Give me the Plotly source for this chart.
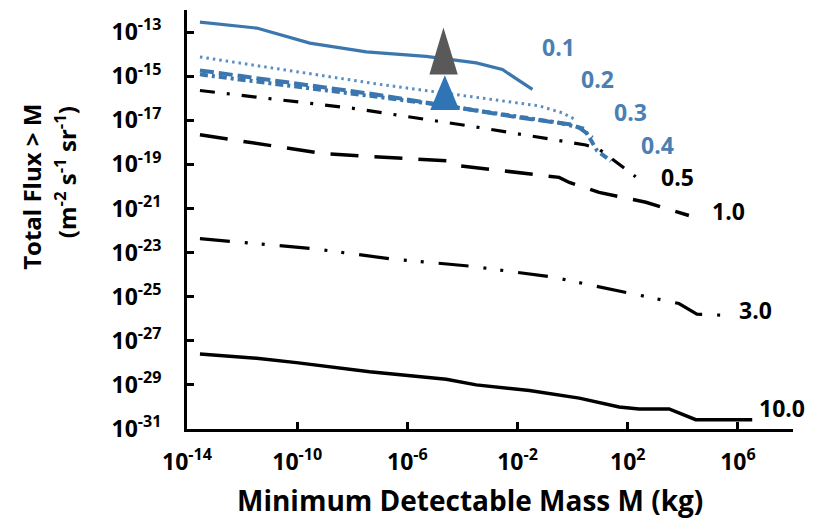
import plotly.graph_objects as go

# log10 of minimum detectable mass (kg) and log10 of total flux (m^-2 s^-1 sr^-1)
x_v01 = [-13.53, -11.47, -9.54, -7.49, -5.32, -3.50, -2.55, -1.46]
y_v01 = [-12.55, -12.82, -13.50, -13.90, -14.10, -14.40, -14.70, -15.60]

x_v02 = [-13.53, -7.01, -3.38, -1.21, -0.38, 0.06]
y_v02 = [-14.13, -15.37, -15.98, -16.35, -16.66, -16.94]

x_v03 = [-13.53, -7.26, -1.93, -0.12, 0.24, 0.72]
y_v03 = [-14.74, -15.81, -16.88, -17.18, -17.33, -17.79]

x_v04 = [-13.53, -5.31, -0.49, 0.42, 0.89, 1.39]
y_v04 = [-14.92, -16.22, -17.11, -17.39, -18.38, -18.84]

x_v05 = [-13.53, -7.97, -3.38, -1.21, 0.48, 0.96, 1.87, 2.29]
y_v05 = [-15.65, -16.46, -17.33, -17.79, -18.12, -18.31, -19.14, -19.56]

x_v10 = [-13.53, -9.05, -5.72, -4.47, -4.11, -0.49, -0.12, 0.96, 2.66, 4.22]
y_v10 = [-17.66, -18.51, -18.76, -18.84, -19.06, -19.59, -19.82, -20.27, -20.72, -21.32]

x_v30 = [-13.53, -9.42, -6.64, -3.68, -0.73, 2.11, 3.86, 4.51, 5.43]
y_v30 = [-22.37, -22.82, -23.28, -23.62, -24.11, -24.86, -25.31, -25.79, -25.84]

x_v100 = [-13.53, -11.47, -10.03, -7.37, -4.59, -3.50, -1.57, 0.24, 1.69, 2.41, 3.50, 4.47, 6.52]
y_v100 = [-27.60, -27.79, -27.99, -28.40, -28.74, -29.00, -29.25, -29.60, -30.00, -30.09, -30.09, -30.58, -30.58]

# triangles (vertex log10 coordinates)
tri_gray_x = [-5.20, -4.69, -4.17, -5.20]
tri_gray_y = [-14.92, -12.79, -14.92, -14.92]
tri_blue_x = [-5.17, -4.64, -4.11, -5.17]
tri_blue_y = [-16.54, -14.96, -16.54, -16.54]

curve_labels = ["0.1", "0.2", "0.3", "0.4", "0.5", "1.0", "3.0", "10.0"]
label_x = [-0.51, 0.90, 2.11, 3.08, 3.80, 5.67, 6.64, 7.60]
label_y = [-13.68, -15.15, -16.63, -18.12, -19.59, -21.13, -25.61, -30.05]

x_tick_exp = [-14, -10, -6, -2, 2, 6]
y_tick_exp = [-13, -15, -17, -19, -21, -23, -25, -27, -29, -31]

BLUE = "#3b77ae"
BLUE_L = "#5a8ec0"
LBL_BLUE = "#4a7fb3"
FONT = "Open Sans"

def p10(v):
    return [10 ** e for e in v]

fig = go.Figure()

series = [
    (x_v01, y_v01, BLUE, "solid", 3.2),
    (x_v02, y_v02, BLUE_L, "2.5px,4px", 3),
    (x_v03, y_v03, BLUE, "14px,5px", 4),
    (x_v04, y_v04, BLUE, "8px,4px,3px,4px", 4),
    (x_v05, y_v05, "black", "15px,12px,3px,12px", 3.2),
    (x_v10, y_v10, "black", "28px,16px", 3.5),
    (x_v30, y_v30, "black", "30px,15px,3px,14px,3px,15px", 3.2),
    (x_v100, y_v100, "black", "solid", 3.5),
]
for xs, ys, col, dash, w in series:
    fig.add_trace(go.Scatter(x=p10(xs), y=p10(ys), mode="lines",
                             line=dict(color=col, dash=dash, width=w),
                             showlegend=False, hoverinfo="skip"))

fig.add_trace(go.Scatter(x=p10(tri_gray_x), y=p10(tri_gray_y), mode="lines",
                         fill="toself", fillcolor="#595959",
                         line=dict(color="#595959", width=0), showlegend=False))
fig.add_trace(go.Scatter(x=p10(tri_blue_x), y=p10(tri_blue_y), mode="lines",
                         fill="toself", fillcolor="#2f74b5",
                         line=dict(color="#2f74b5", width=0), showlegend=False))

annotations = []
for i, t in enumerate(curve_labels):
    annotations.append(dict(x=label_x[i], y=label_y[i], xref="x", yref="y",
                            text="<b>%s</b>" % t, showarrow=False,
                            xanchor="center", yanchor="middle",
                            font=dict(family=FONT, size=23,
                                      color=LBL_BLUE if i < 4 else "black")))

annotations.append(dict(x=0, y=0.578, xref="paper", yref="paper", xshift=-155,
                        xanchor="center", yanchor="middle",
                        text="<b>Total Flux &gt; M</b>", textangle=-90, showarrow=False,
                        font=dict(family=FONT, size=24, color="black")))
annotations.append(dict(x=0, y=0.613, xref="paper", yref="paper", xshift=-122,
                        xanchor="center", yanchor="middle",
                        text="<b>(m<sup>-2</sup> s<sup>-1</sup> sr<sup>-1</sup>)</b>",
                        textangle=-90, showarrow=False,
                        font=dict(family=FONT, size=24, color="black")))
annotations.append(dict(x=0.467, y=-0.169, xref="paper", yref="paper",
                        xanchor="center", yanchor="middle",
                        text="<b>Minimum Detectable Mass M (kg)</b>", showarrow=False,
                        font=dict(family=FONT, size=28, color="black")))

fig.update_layout(
    width=801, height=511,
    margin=dict(l=179, r=16, t=2, b=90),
    plot_bgcolor="white", paper_bgcolor="white",
    annotations=annotations,
    xaxis=dict(type="log", range=[-14, 8], showgrid=False, zeroline=False,
               showline=True, linecolor="black", linewidth=3,
               ticks="inside", ticklen=7, tickwidth=3, tickcolor="black",
               tickvals=[10 ** e for e in x_tick_exp],
               ticktext=["<b>10<sup>%d</sup></b>" % e for e in x_tick_exp],
               tickfont=dict(family=FONT, size=23, color="black"),
               ticklabelstandoff=10),
    yaxis=dict(type="log", range=[-31, -12], showgrid=False, zeroline=False,
               showline=True, linecolor="black", linewidth=3,
               ticks="inside", ticklen=7, tickwidth=3, tickcolor="black",
               tickvals=[10 ** e for e in y_tick_exp],
               ticktext=["<b>10<sup>%d</sup></b>" % e for e in y_tick_exp],
               tickfont=dict(family=FONT, size=23, color="black"),
               ticklabelstandoff=18),
)

fig.write_html("out.html")
